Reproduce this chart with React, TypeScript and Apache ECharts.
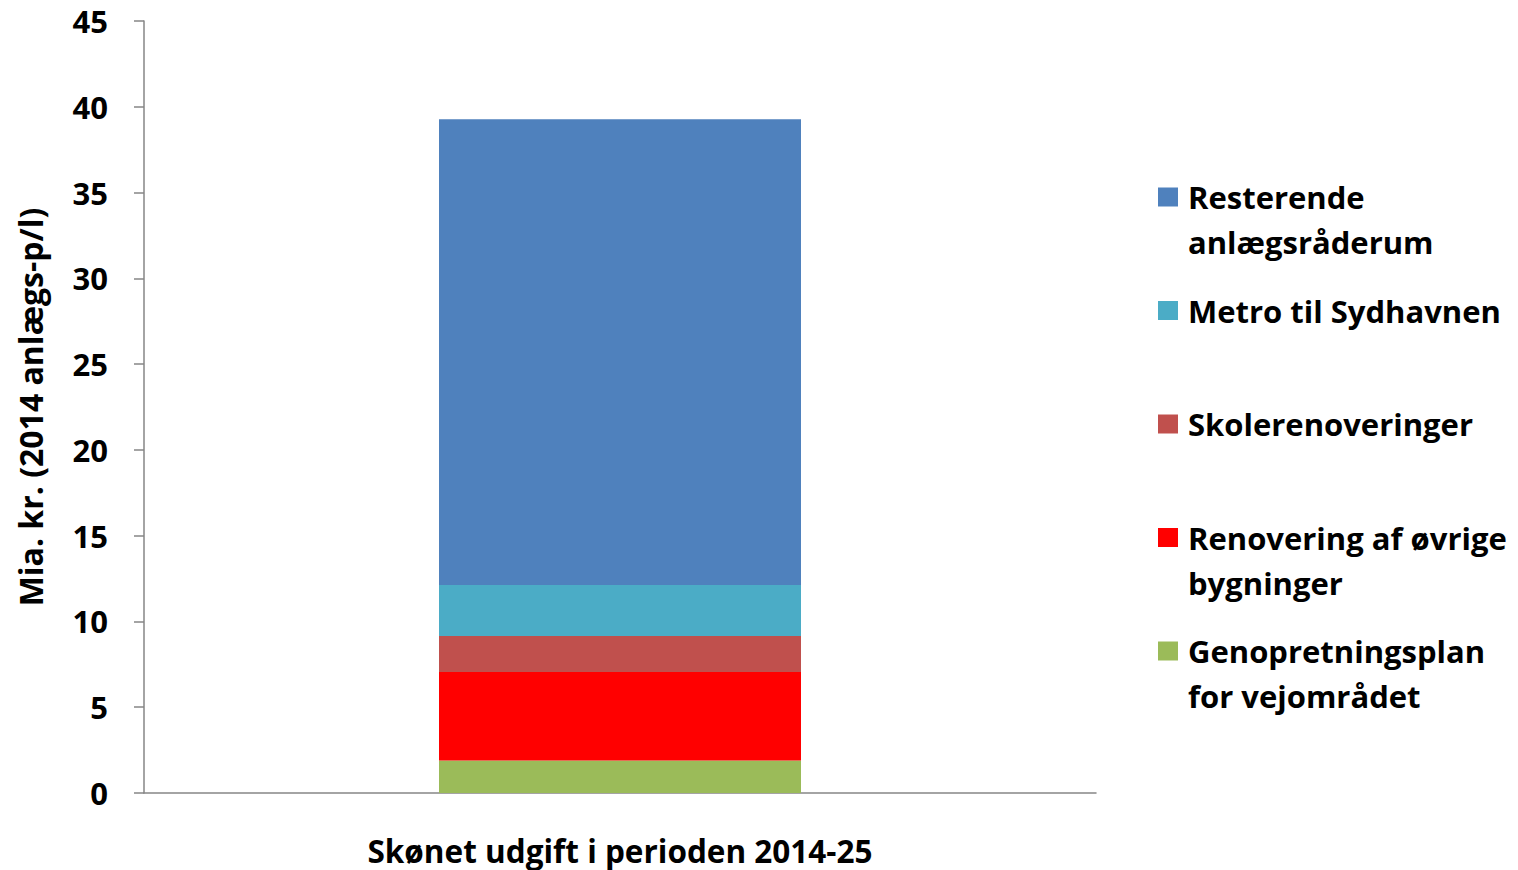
import React, { useEffect, useRef } from "react";
import * as echarts from "echarts";

const categories = ["Skønet udgift i perioden 2014-25"];
const seriesNames = [
  "Genopretningsplan\nfor vejområdet",
  "Renovering af øvrige\nbygninger",
  "Skolerenoveringer",
  "Metro til Sydhavnen",
  "Resterende\nanlægsråderum",
];
const seriesValues = [[1.9], [5.15], [2.1], [2.97], [27.15]];
const seriesColors = ["#9BBB59", "#FF0000", "#C0504D", "#4BACC6", "#4F81BD"];
const yTicks = { min: 0, max: 45, interval: 5 };
const yTitle = "Mia. kr. (2014 anlægs-p/l)";

const FONT = "'Open Sans', sans-serif";

export default function App() {
  const ref = useRef<HTMLDivElement>(null);
  useEffect(() => {
    document.body.style.margin = "0";
    document.body.style.overflow = "hidden";
    if (!ref.current) return;
    const chart = echarts.init(ref.current, undefined, { renderer: "svg" });
    chart.setOption({
      animation: false,
      grid: { left: 144, right: 422, top: 21, bottom: 77, containLabel: false },
      legend: {
        orient: "vertical",
        left: 1158,
        top: 129.5,
        padding: 0,
        itemGap: -21.5,
        itemWidth: 20,
        itemHeight: 19,
        selectedMode: false,
        icon: "rect",
        data: [...seriesNames].reverse(),
        formatter: (name: string) =>
          name.includes("\n") ? "\n" + name : "\n" + name + "\n",
        textStyle: {
          fontFamily: FONT,
          fontWeight: "bold",
          fontSize: 31,
          lineHeight: 45,
          color: "#000",
          padding: [0, 0, 0, 5],
        },
      },
      xAxis: {
        type: "category",
        data: categories,
        axisLine: { lineStyle: { color: "#868686", width: 1.5 } },
        axisTick: { show: false },
        axisLabel: {
          fontFamily: FONT,
          fontWeight: "bold",
          fontSize: 31.5,
          color: "#000",
          margin: 41,
        },
      },
      yAxis: {
        type: "value",
        min: yTicks.min,
        max: yTicks.max,
        interval: yTicks.interval,
        name: yTitle,
        nameLocation: "middle",
        nameRotate: 90,
        nameGap: 98,
        nameTextStyle: {
          fontFamily: FONT,
          fontWeight: "bold",
          fontSize: 32,
          color: "#000",
        },
        splitLine: { show: false },
        axisLine: { show: true, lineStyle: { color: "#868686", width: 1.5 } },
        axisTick: { show: true, length: 10, lineStyle: { color: "#868686", width: 1.5 } },
        axisLabel: {
          fontFamily: FONT,
          fontWeight: "bold",
          fontSize: 31,
          color: "#000",
          margin: 36,
        },
      },
      series: seriesNames.map((name, i) => ({
        name,
        type: "bar",
        stack: "total",
        barWidth: 362,
        data: seriesValues[i],
        itemStyle: { color: seriesColors[i] },
      })),
    });
    return () => chart.dispose();
  }, []);
  return (
    <div
      ref={ref}
      style={{ position: "absolute", left: 0, top: 0, width: 1518, height: 870 }}
    />
  );
}
